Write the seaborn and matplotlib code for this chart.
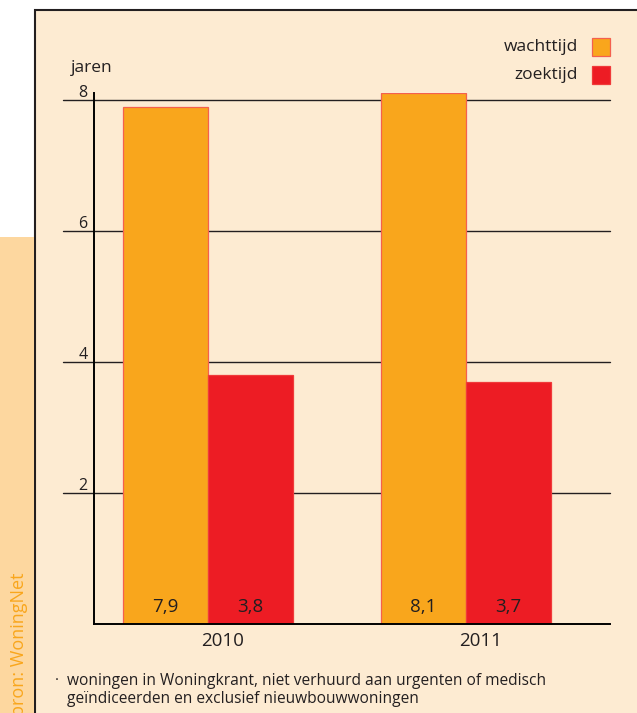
import pandas as pd
import matplotlib.pyplot as plt
import seaborn as sns
from matplotlib.patches import Rectangle
from matplotlib.transforms import blended_transform_factory, ScaledTranslation

# gegevens
jaren_lijst = ["2010", "2011"]
wachttijd = [7.9, 8.1]
zoektijd = [3.8, 3.7]
reeksen = ["wachttijd", "zoektijd"]
y_ticks = [2, 4, 6, 8]
voetnoot_1 = "woningen in Woningkrant, niet verhuurd aan urgenten of medisch"
voetnoot_2 = "geïndiceerden en exclusief nieuwbouwwoningen"
bron = "bron: WoningNet"

df = pd.DataFrame({
    "jaar": jaren_lijst * 2,
    "soort": [reeksen[0]] * 2 + [reeksen[1]] * 2,
    "jaren": wachttijd + zoektijd,
})

# kleuren
oranje = "#F9A61C"
rood = "#ED1C24"
creme = "#FDEBD2"
strook = "#FDD79F"
donker = "#231F20"

sns.set_theme(style="white")
plt.rcParams["font.family"] = ["Open Sans", "DejaVu Sans"]

W, H = 637, 713
fig = plt.figure(figsize=(W / 100, H / 100), dpi=100)

# achtergrond: paneel en strook links
fig.patches.append(Rectangle((35 / W, -0.02), 1.0, 1 - 10 / H + 0.02,
                             transform=fig.transFigure, facecolor=creme,
                             edgecolor=donker, lw=1.5, zorder=-2))
fig.patches.append(Rectangle((0, -0.02), 34 / W, (H - 237) / H + 0.02,
                             transform=fig.transFigure, facecolor=strook,
                             edgecolor="none", zorder=-2))

ax = fig.add_axes([94 / W, (H - 624) / H, 516 / W, 8.1 * 65.5 / H])
ax.patch.set_visible(False)

sns.barplot(data=df, x="jaar", y="jaren", hue="soort", palette=[oranje, rood],
            width=0.66, gap=0, saturation=1, legend=False, ax=ax, zorder=2)

for p, kleur in zip(ax.patches, ["#F4604F"] * 2 + ["#F03A3A"] * 2):
    p.set_edgecolor(kleur)
    p.set_linewidth(0.9)
    h = p.get_height()
    ax.text(p.get_x() + p.get_width() / 2, 0.26, f"{h:.1f}".replace(".", ","),
            ha="center", va="center", fontsize=13.5, color=donker, zorder=3)

ax.set_xlim(-0.442, 1.558)
ax.set_ylim(0, 8.1)

# rasterlijnen en y-labels
trans = blended_transform_factory(ax.transAxes, ax.transData)
for t in y_ticks:
    ax.axhline(t, xmin=-0.06, xmax=1, color=donker, lw=1.0, zorder=0.5, clip_on=False)
    ax.text(-0.013, t + 3 / 65.5, str(t), transform=trans, ha="right",
            va="baseline", fontsize=11.5, color=donker)

ax.set_yticks([])
ax.set_xlabel("")
ax.set_ylabel("")
ax.tick_params(axis="x", length=0, pad=6, labelsize=13.5, labelcolor=donker)
# jaartallen staan iets rechts van het midden van de groep
verschuiving = ScaledTranslation(15 / 100, 0, fig.dpi_scale_trans)
for lbl in ax.get_xticklabels():
    lbl.set_transform(lbl.get_transform() + verschuiving)
for s in ["top", "right"]:
    ax.spines[s].set_visible(False)
for s in ["left", "bottom"]:
    ax.spines[s].set_color("black")
    ax.spines[s].set_linewidth(1.4)

fig.text(71 / W, 1 - 68 / H, "jaren", ha="left", va="center", fontsize=12.5, color=donker)

# legenda
for i, (naam, kleur, rand) in enumerate(zip(reeksen, [oranje, rood], ["#F4604F", "#F03A3A"])):
    yc = 47 + 28 * i
    fig.text(578 / W, 1 - yc / H, naam, ha="right", va="center", fontsize=12.5, color=donker)
    fig.patches.append(Rectangle((592 / W, 1 - (yc + 9) / H), 18 / W, 18 / H,
                                 transform=fig.transFigure, facecolor=kleur,
                                 edgecolor=rand, lw=0.9, zorder=2))

# voetnoot
fig.text(57 / W, 1 - 681 / H, "·", ha="center", va="center", fontsize=11, color=donker)
fig.text(67 / W, 1 - 681 / H, voetnoot_1, ha="left", va="center", fontsize=11.2, color=donker)
fig.text(67 / W, 1 - 699 / H, voetnoot_2, ha="left", va="center", fontsize=11.2, color=donker)

# bron
fig.text(19 / W, 1 - 573 / H, bron, rotation=90, ha="center", va="top",
         fontsize=13, color=oranje)

fig.savefig("out.png", dpi=100)
